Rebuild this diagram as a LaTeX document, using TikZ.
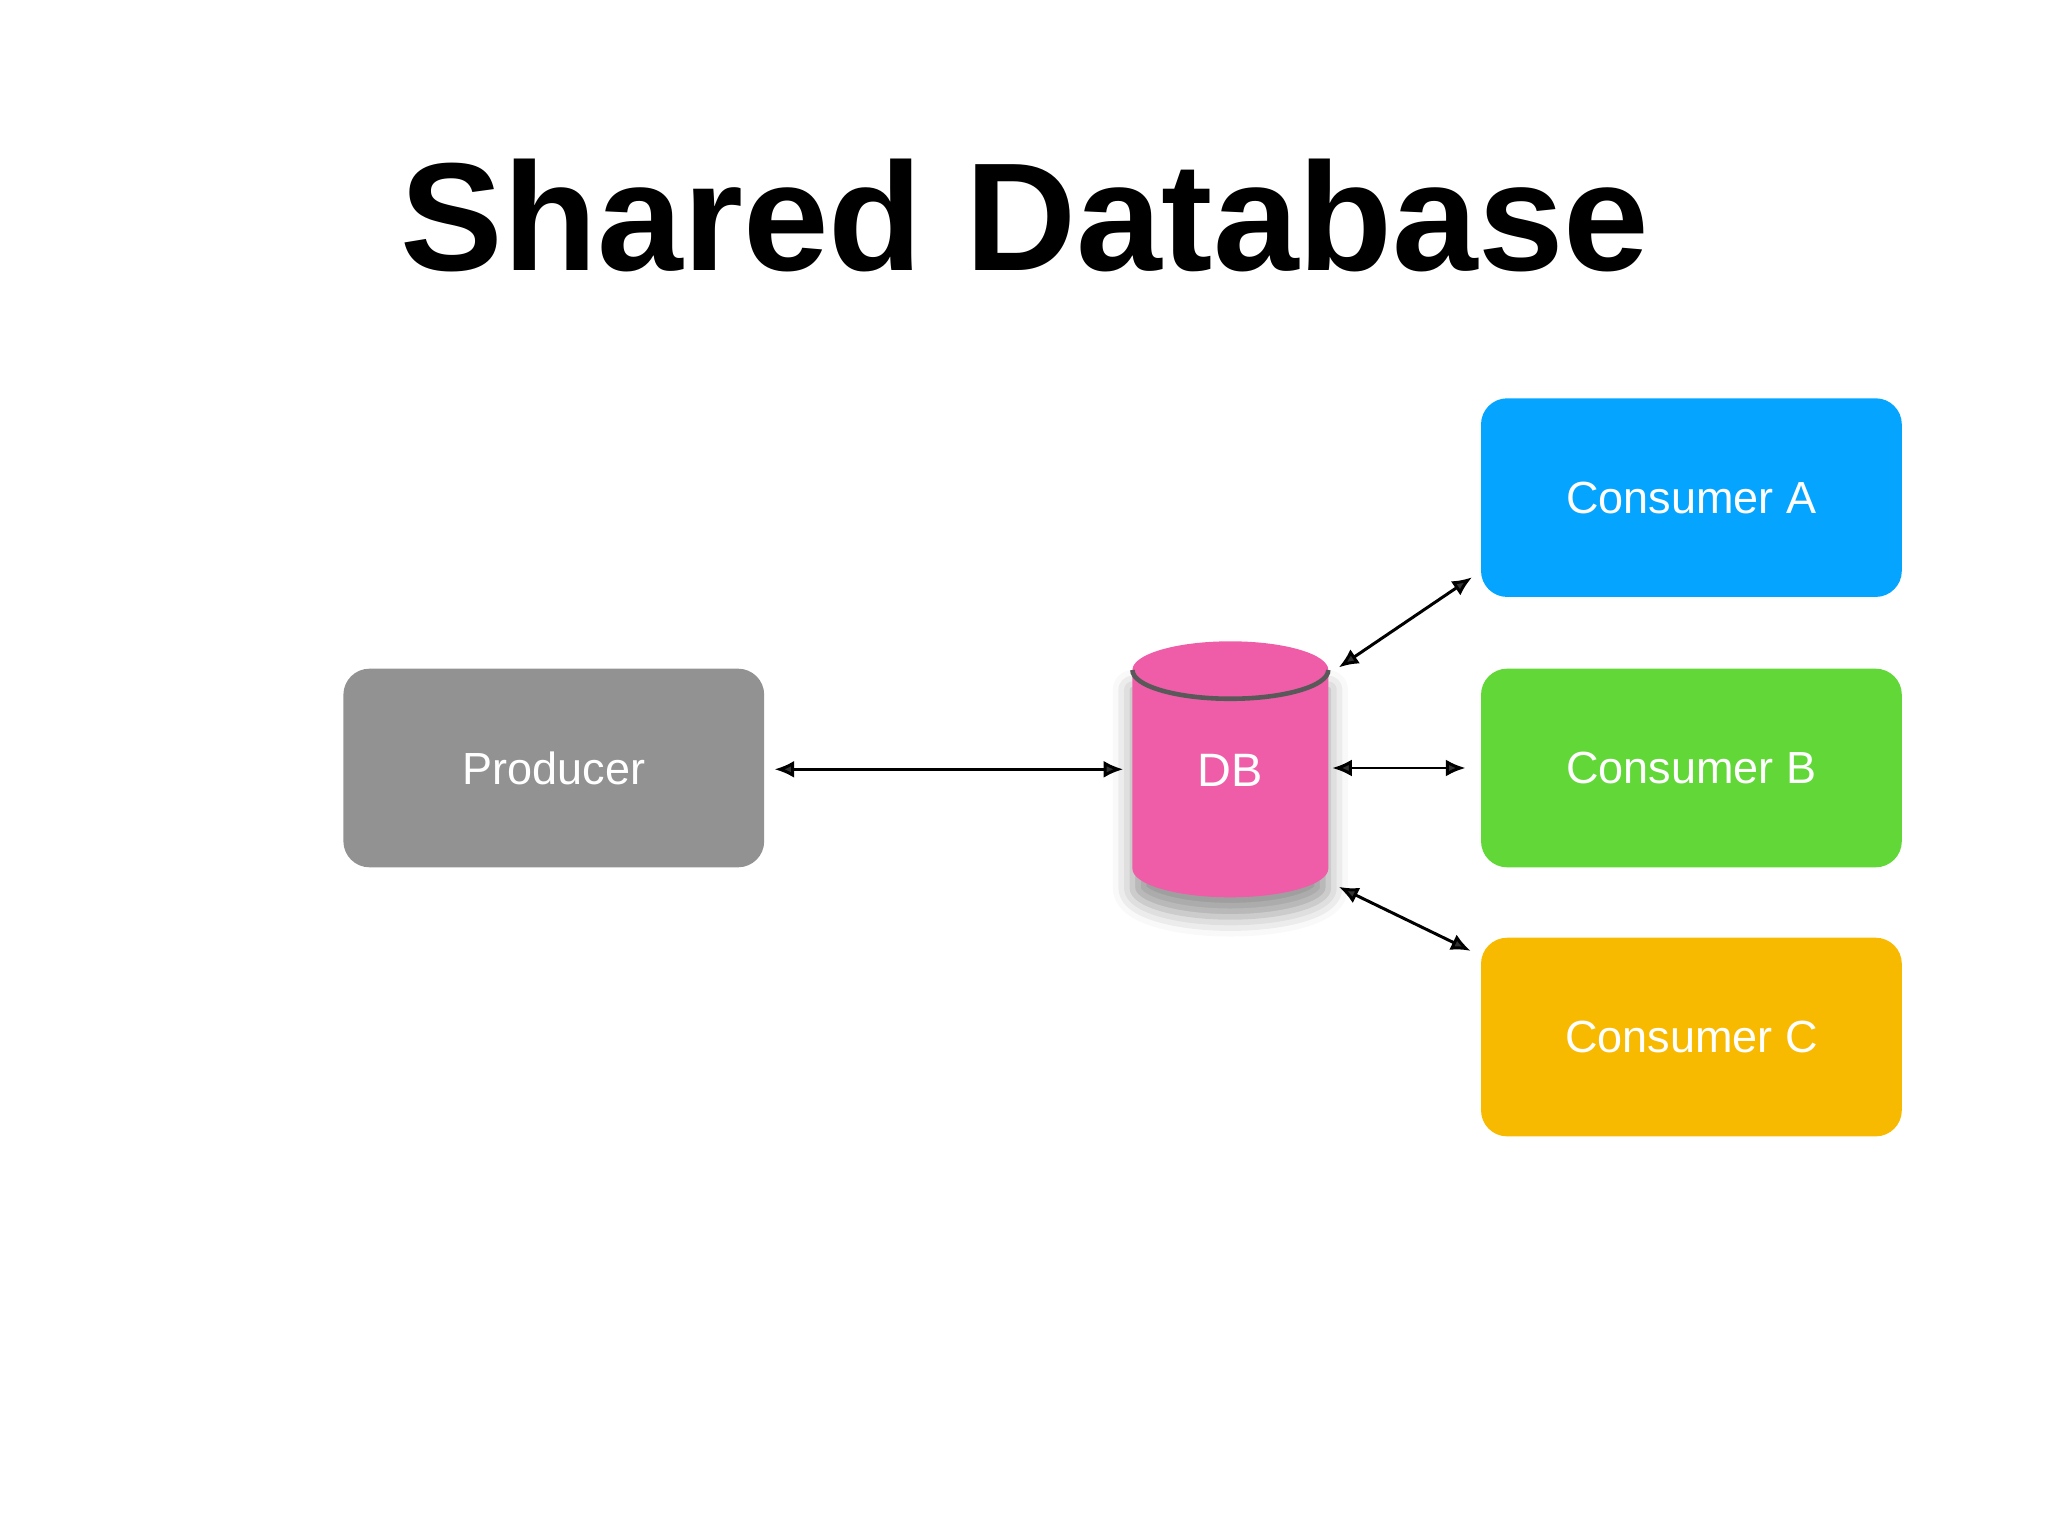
\documentclass[tikz,border=0pt]{standalone}
\usepackage{fontspec}
\setmainfont{Liberation Sans}
\usetikzlibrary{arrows.meta,shadows.blur}
\definecolor{prodc}{HTML}{929292}
\definecolor{conA}{HTML}{05A5FF}
\definecolor{conB}{HTML}{62D838}
\definecolor{conC}{HTML}{F8BA00}
\definecolor{dbc}{HTML}{EF5DA8}
\tikzset{
  box/.style={rounded corners=0.2cm, minimum width=3.22cm, minimum height=1.52cm, text=white, font=\fontsize{9.8pt}{10pt}\selectfont, inner sep=0},
  link/.style={{Latex[length=0.15cm,width=0.13cm]}-{Latex[length=0.15cm,width=0.13cm]}, line width=0.65pt}
}
\begin{document}
\begin{tikzpicture}[x=0.01cm,y=-0.01cm]
\useasboundingbox (0,0) rectangle (1568,1176);
\node[font=\fontsize{33.5pt}{40pt}\selectfont\bfseries] (title) at (785,165) {Shared Database};
\node[box, fill=prodc] (prod) at (424,588) {Producer};
\node[box, fill=conA] (ca) at (1295,381) {Consumer A};
\node[box, fill=conB] (cb) at (1295,588) {Consumer B};
\node[box, fill=conC] (cc) at (1295,794) {Consumer C};
% cylinder
\fill[dbc, blur shadow={shadow xshift=0cm, shadow yshift=-0.15cm, shadow blur radius=0.15cm}]
  (867,513) -- (867,665) arc[start angle=180,end angle=360,x radius=75,y radius=-22] -- (1017,513) -- cycle;
\fill[dbc] (942,513) ellipse[x radius=75, y radius=22];
\draw[gray!70!black, line width=1pt] (867,513) arc[start angle=180,end angle=360,x radius=75,y radius=-22];
\node[text=white, font=\fontsize{10.2pt}{10pt}\selectfont] (db) at (942,590) {DB};
\coordinate (dbl) at (860,589);
\coordinate (prodr) at (593,589);
\coordinate (dbr) at (1020,588);
\coordinate (cbl) at (1122,588);
\coordinate (dbtr) at (1025,511);
\coordinate (cal) at (1127,442);
\coordinate (dbbr) at (1025,679);
\coordinate (ccl) at (1126,728);
\draw[link] (prodr) -- (dbl);
\draw[link] (dbr) -- (cbl);
\draw[link] (dbtr) -- (cal);
\draw[link] (dbbr) -- (ccl);
\end{tikzpicture}
\end{document}
